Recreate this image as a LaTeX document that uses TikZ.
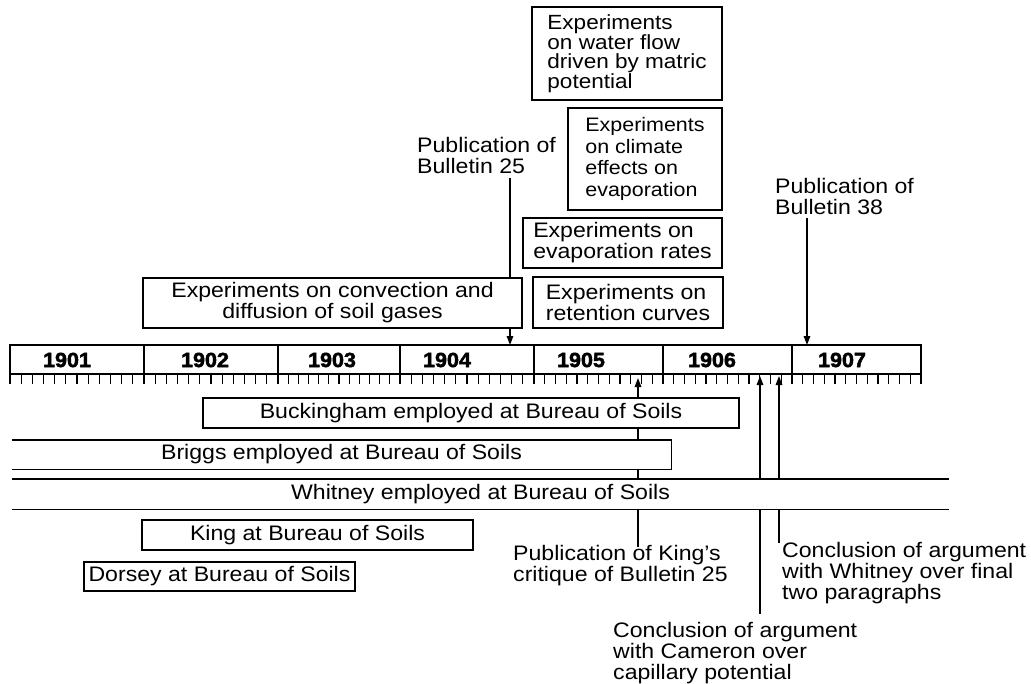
\documentclass[tikz,border=0pt]{standalone}
\usepackage{fontspec}
\setmainfont{Liberation Sans}[FakeStretch=1.1]
\newfontfamily\yearfont{Liberation Sans}[FakeStretch=1.05, BoldFeatures={FakeBold=2.2}]
\usetikzlibrary{arrows.meta,backgrounds}
\newcommand\txtsize{\fontsize{21}{21}\selectfont}
\newcommand\climsize{\fontsize{19.5}{21.5}\selectfont}
\newcommand\watersize{\fontsize{20.5}{18.5}\selectfont}
\newcommand\yearsize{\yearfont\bfseries\fontsize{20.5}{20.5}\selectfont}
\tikzset{
  ebox/.style={draw, line width=1.4pt, fill=white, inner sep=0pt, align=center, font=\txtsize},
  stripe/.style={fill=white, inner sep=0pt, font=\txtsize},
  edgeline/.style={line width=1.4pt},
  annot/.style={inner sep=0pt, align=left, font=\txtsize, anchor=north west},
  conn/.style={line width=1.4pt, -{Triangle[length=9pt,width=6.5pt]}},
  yearlabel/.style={inner sep=0pt, font=\yearsize},
  barline/.style={line width=1.4pt},
  tick/.style={line width=1.1pt}
}
\begin{document}
\begin{tikzpicture}[x=1pt,y=-1pt]
\path[use as bounding box] (0,0) rectangle (1031,683);

% ---------- upper boxes ----------
\node[ebox, minimum width=379, minimum height=50] (conv) at (332.5,303)
  {Experiments on convection and\\diffusion of soil gases};
\node[ebox, align=left, minimum width=190, minimum height=51] (ret) at (628,302.5)
  {Experiments on\\retention curves};
\node[ebox, align=left, minimum width=199, minimum height=50] (evap) at (622.5,243)
  {Experiments on\\evaporation rates};
\node[ebox, align=left, minimum width=154, minimum height=102, font=\climsize] (clim) at (645,159)
  {Experiments\\on climate\\effects on\\evaporation};
\node[ebox, align=left, minimum width=190, minimum height=93, font=\watersize] (water) at (627,53.5)
  {Experiments\\on water flow\\driven by matric\\potential};

% ---------- annotations ----------
\node[annot] (pub25) at (417,137) {Publication of\\Bulletin 25};
\node[annot] (pub38) at (775,178) {Publication of\\Bulletin 38};
\node[annot] (kingpub) at (513,545) {Publication of King's\\critique of Bulletin 25};
\node[annot] (argwhit) at (782,542.5) {Conclusion of argument\\with Whitney over final\\two paragraphs};
\node[annot] (argcam) at (613,622.5) {Conclusion of argument\\with Cameron over\\capillary potential};

% ---------- time bar ----------
\draw[barline] (10,345) rectangle (921,374);
\foreach \d in {144,278,400,534,663,792} \draw[barline] (\d,345) -- (\d,374);
\foreach \a/\b in {10/144,144/278,278/400,400/534,534/663,663/792,792/921}
  \foreach \k in {0,...,12} \draw[tick] ({\a+\k*(\b-\a)/12},374) -- ++(0,9.5);
\node[yearlabel] (y1901) at (67,360) {1901};
\node[yearlabel] (y1902) at (205,360) {1902};
\node[yearlabel] (y1903) at (332,360) {1903};
\node[yearlabel] (y1904) at (447,360) {1904};
\node[yearlabel] (y1905) at (581,360) {1905};
\node[yearlabel] (y1906) at (712,360) {1906};
\node[yearlabel] (y1907) at (842,360) {1907};

\coordinate (c25) at (510,345);
\coordinate (c38) at (807,345);
\coordinate (cking) at (638,378);
\coordinate (ccam) at (760,376);
\coordinate (cwhit) at (779,376);

% ---------- employment bars ----------
\node[ebox, minimum width=536, minimum height=30] (buck) at (471,413)
  {Buckingham employed at Bureau of Soils};
\node[stripe, minimum width=659, minimum height=29] (brig) at (341.5,454.5)
  {Briggs employed at Bureau of Soils};
\draw[edgeline] (brig.north west) -- (brig.north east) -- (brig.south east) -- (brig.south west);
\node[stripe, minimum width=937, minimum height=30] (whit) at (480.5,494)
  {Whitney employed at Bureau of Soils};
\draw[edgeline] (whit.north west) -- (whit.north east);
\draw[edgeline] (whit.south west) -- (whit.south east);
\node[ebox, minimum width=331, minimum height=30] (king) at (307.5,535)
  {King at Bureau of Soils};
\node[ebox, minimum width=271, minimum height=29] (dors) at (219.5,576.5)
  {Dorsey at Bureau of Soils};

% ---------- connectors (behind boxes) ----------
\begin{pgfonlayer}{background}
\fill[white] (0,0) rectangle (1031,683);
\draw[conn] ([yshift=-4pt]pub25.south -| c25) -- (c25);
\draw[conn] ([yshift=-3pt]pub38.south -| c38) -- (c38);
\draw[conn] ([yshift=-2pt]kingpub.north -| cking) -- (cking);
\draw[conn] ([yshift=9pt]argcam.north -| ccam) -- (ccam);
\draw[conn] (argwhit.north -| cwhit) -- (cwhit);
\end{pgfonlayer}
\end{tikzpicture}
\end{document}
